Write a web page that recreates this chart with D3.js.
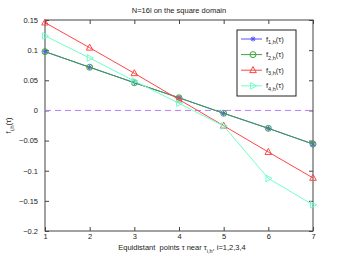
<!DOCTYPE html>
<html>
<head>
<meta charset="utf-8">
<script src="https://cdn.jsdelivr.net/npm/d3@7"></script>
<style>
  body { margin: 0; background: #fff; }
  text { font-family: "Liberation Sans", Arial, sans-serif; fill: #222; }
</style>
</head>
<body>
<div id="chart"></div>
<script>
// values
var xs = [1, 2, 3, 4, 5, 6, 7];
var f1 = [0.0975, 0.0716, 0.046, 0.021, -0.0048, -0.0297, -0.0558];
var f2 = [0.0975, 0.0716, 0.046, 0.021, -0.0048, -0.0297, -0.0558];
var f3 = [0.1457, 0.104, 0.0616, 0.018, -0.0254, -0.069, -0.112];
var f4 = [0.1236, 0.087, 0.0488, 0.0118, -0.0258, -0.1128, -0.1566];
var xTicks = [1, 2, 3, 4, 5, 6, 7];
var yTicks = [-0.2, -0.15, -0.1, -0.05, 0, 0.05, 0.1, 0.15];

var series = [
  { name: "1", values: f1, color: "#5050ff", marker: "star" },
  { name: "2", values: f2, color: "#3ea33e", marker: "circle" },
  { name: "3", values: f3, color: "#ff4545", marker: "triangle" },
  { name: "4", values: f4, color: "#70ffc8", marker: "right" }
];

var W = 346, H = 260;
var margin = { top: 20, right: 33, bottom: 29, left: 45 };
var width = W - margin.left - margin.right,
    height = H - margin.top - margin.bottom;

var svg = d3.select("#chart").append("svg")
  .attr("width", W).attr("height", H);

var g = svg.append("g")
  .attr("transform", "translate(" + margin.left + "," + margin.top + ")");

var x = d3.scaleLinear().domain([1, 7]).range([0, width]);
var y = d3.scaleLinear().domain([-0.2, 0.15]).range([height, 0]);

function fmt(d) {
  if (d === 0) return "0";
  return d.toString().replace("-", "\u2212");
}

// axes (ticks inward, on all four sides like matlab)
var tl = 4;
g.append("g").attr("transform", "translate(0," + height + ")")
  .call(d3.axisBottom(x).tickValues(xTicks).tickSize(-tl).tickPadding(3).tickFormat(d3.format("d")))
  .call(function(a) { a.select(".domain").remove(); });
g.append("g").attr("transform", "translate(0,0)")
  .call(d3.axisTop(x).tickValues(xTicks).tickSize(-tl).tickFormat(""))
  .call(function(a) { a.select(".domain").remove(); });
g.append("g")
  .call(d3.axisLeft(y).tickValues(yTicks).tickSize(-tl).tickPadding(tl + 3).tickFormat(fmt))
  .call(function(a) { a.select(".domain").remove(); });
g.append("g").attr("transform", "translate(" + width + ",0)")
  .call(d3.axisRight(y).tickValues(yTicks).tickSize(-tl).tickFormat(""))
  .call(function(a) { a.select(".domain").remove(); });

g.selectAll(".tick line").attr("stroke", "#444");
g.selectAll(".tick text").style("font-size", "7.5px").attr("fill", "#222");

g.append("rect").attr("width", width).attr("height", height)
  .attr("fill", "none").attr("stroke", "#444").attr("stroke-width", 1);

// zero line
g.append("line")
  .attr("x1", 0).attr("x2", width)
  .attr("y1", y(0)).attr("y2", y(0))
  .attr("stroke", "#b87dff").attr("stroke-width", 1)
  .attr("stroke-dasharray", "6,4");

var line = d3.line()
  .x(function(d, i) { return x(xs[i]); })
  .y(function(d) { return y(d); });

function drawMarker(sel, type, color) {
  if (type === "star") {
    sel.append("path").attr("d", "M-2.5,0H2.5M0,-2.5V2.5M-1.8,-1.8L1.8,1.8M-1.8,1.8L1.8,-1.8")
      .attr("stroke", color).attr("stroke-width", 1).attr("fill", "none");
  } else if (type === "circle") {
    sel.append("circle").attr("r", 3).attr("fill", "none").attr("stroke", color);
  } else if (type === "triangle") {
    sel.append("path").attr("d", "M0,-3.6L3.3,2.4L-3.3,2.4Z").attr("fill", "none").attr("stroke", color);
  } else {
    sel.append("path").attr("d", "M3.6,0L-2.4,-3.3L-2.4,3.3Z").attr("fill", "none").attr("stroke", color);
  }
}

// each series line + markers, in order (later ones on top)
series.forEach(function(s) {
  g.append("path").datum(s.values)
    .attr("d", line).attr("fill", "none")
    .attr("stroke", s.color).attr("stroke-width", 1);
  s.values.forEach(function(v, i) {
    var m = g.append("g").attr("transform", "translate(" + x(xs[i]) + "," + y(v) + ")");
    drawMarker(m, s.marker, s.color);
  });
});

// legend
var lg = svg.append("g").attr("transform", "translate(237,30)");
lg.append("rect").attr("width", 59).attr("height", 66)
  .attr("fill", "#fff").attr("stroke", "#222").attr("stroke-width", 1);
series.forEach(function(s, i) {
  var row = lg.append("g").attr("transform", "translate(0," + (9 + i * 15.6) + ")");
  row.append("line").attr("x1", 4).attr("x2", 25).attr("stroke", s.color);
  var m = row.append("g").attr("transform", "translate(16,0)");
  drawMarker(m, s.marker, s.color);
  var t = row.append("text").attr("x", 29).attr("y", 2.5).style("font-size", "7.5px");
  t.append("tspan").text("f");
  t.append("tspan").attr("dy", 2.5).style("font-size", "5.5px").text(s.name + ",h");
  t.append("tspan").attr("dy", -2.5).text("(\u03c4)");
});

// title and axis labels
svg.append("text").attr("x", margin.left + width / 2).attr("y", 13)
  .attr("text-anchor", "middle").style("font-size", "7.5px")
  .text("N=16l on the square domain");

var xl = svg.append("text").attr("x", margin.left + width / 2 + 3).attr("y", 250)
  .attr("text-anchor", "middle").style("font-size", "7.5px");
xl.append("tspan").text("Equidistant\u00a0 points \u03c4 near \u03c4");
xl.append("tspan").attr("dy", 2.5).style("font-size", "5.5px").text("i,h");
xl.append("tspan").attr("dy", -2.5).text(", i=1,2,3,4");

var yl = svg.append("text")
  .attr("transform", "translate(11," + (margin.top + height / 2) + ") rotate(-90)")
  .attr("text-anchor", "middle").style("font-size", "7.5px");
yl.append("tspan").text("f");
yl.append("tspan").attr("dy", 2.5).style("font-size", "5.5px").text("i,h");
yl.append("tspan").attr("dy", -2.5).text("(\u03c4)");
</script>
</body>
</html>
